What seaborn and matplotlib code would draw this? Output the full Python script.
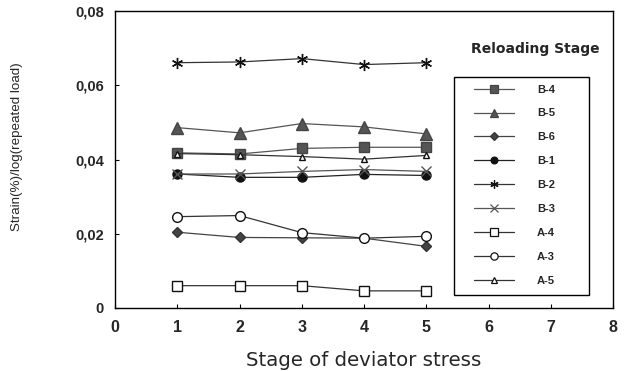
import matplotlib
matplotlib.use("Agg")
import matplotlib.pyplot as plt
import seaborn as sns
import pandas as pd
from matplotlib.lines import Line2D
from matplotlib.patches import Rectangle

# Stage of deviator stress
stages = [1, 2, 3, 4, 5]

b4 = [0.0418, 0.0415, 0.0430, 0.0433, 0.0433]
b5 = [0.0486, 0.0472, 0.0497, 0.0488, 0.0469]
b6 = [0.0204, 0.0190, 0.0189, 0.0188, 0.0166]
b1 = [0.0361, 0.0352, 0.0352, 0.0360, 0.0357]
b2 = [0.0661, 0.0663, 0.0672, 0.0656, 0.0661]
b3 = [0.0361, 0.0361, 0.0368, 0.0373, 0.0368]
a4 = [0.0060, 0.0060, 0.0060, 0.0046, 0.0046]
a3 = [0.0246, 0.0249, 0.0203, 0.0188, 0.0193]
a5 = [0.0416, 0.0413, 0.0408, 0.0401, 0.0411]

series_names = ["B-4", "B-5", "B-6", "B-1", "B-2", "B-3", "A-4", "A-3", "A-5"]
series_values = [b4, b5, b6, b1, b2, b3, a4, a3, a5]

x_ticks = [0, 1, 2, 3, 4, 5, 6, 7, 8]
y_ticks = [0, 0.02, 0.04, 0.06, 0.08]
y_tick_labels = ["0", "0,02", "0,04", "0,06", "0,08"]

styles = {
    "B-4": dict(marker="s", ms=7, mfc="#555555", mec="#444444", color="#555555"),
    "B-5": dict(marker="^", ms=8, mfc="#555555", mec="#444444", color="#555555"),
    "B-6": dict(marker="D", ms=5.5, mfc="#444444", mec="#333333", color="#444444"),
    "B-1": dict(marker="o", ms=6.5, mfc="#111111", mec="#111111", color="#222222"),
    "B-2": dict(marker=(6, 2, 0), ms=8, mfc="#111111", mec="#111111", color="#333333"),
    "B-3": dict(marker="x", ms=7, mfc="#666666", mec="#555555", color="#555555"),
    "A-4": dict(marker="s", ms=7, mfc="white", mec="#111111", color="#333333"),
    "A-3": dict(marker="o", ms=7, mfc="white", mec="#111111", color="#333333"),
    "A-5": dict(marker="^", ms=5, mfc="white", mec="#111111", color="#333333"),
}

sns.set_style("white")
plt.rcParams["font.family"] = ["Liberation Sans", "DejaVu Sans"]

W, H = 632, 371
fig = plt.figure(figsize=(W / 100, H / 100), dpi=100)
ax = fig.add_axes([0.182, 0.170, 0.788, 0.800])

handles = []
for name, vals in zip(series_names, series_values):
    st = styles[name]
    df = pd.DataFrame({"stage": stages, "value": vals})
    sns.lineplot(data=df, x="stage", y="value", ax=ax, color=st["color"],
                 linewidth=0.9, marker=st["marker"], markersize=st["ms"],
                 markerfacecolor=st["mfc"], markeredgecolor=st["mec"],
                 markeredgewidth=1.0, legend=False)
    handles.append(Line2D([], [], color=st["color"], linewidth=0.9,
                          marker=st["marker"], markersize=st["ms"] * 0.75,
                          markerfacecolor=st["mfc"], markeredgecolor=st["mec"],
                          markeredgewidth=0.9, label=name))

ax.set_xlim(0, 8)
ax.set_ylim(0, 0.08)
ax.set_xticks(x_ticks)
ax.set_xticklabels([str(t) for t in x_ticks], fontsize=11.5, fontweight="bold")
ax.set_yticks(y_ticks)
ax.set_yticklabels(y_tick_labels, fontsize=10.5, fontweight="bold")
ax.tick_params(direction="in", length=3, width=0.8, color="black",
               bottom=True, left=True)
ax.tick_params(axis="x", pad=9)
ax.tick_params(axis="y", pad=8)
for sp in ax.spines.values():
    sp.set_color("black")
    sp.set_linewidth(1.0)

ax.set_xlabel("Stage of deviator stress", fontsize=14.2, family="DejaVu Sans")
ax.xaxis.set_label_coords(0.5, -0.145)
ax.set_ylabel("Strain(%)/log(repeated load)", fontsize=9.6)
ax.yaxis.set_label_coords(-0.185, 0.545)

fig.text(535 / W, 1 - 49 / H, "Reloading Stage", ha="center", va="center",
         fontsize=10, family="DejaVu Sans", fontweight="semibold")

# legend entries without frame, boxed by a separate rectangle
leg = ax.legend(handles=handles, loc="upper left",
                bbox_to_anchor=(468 / W, 1 - 79 / H), bbox_transform=fig.transFigure,
                frameon=False, prop={"size": 8, "weight": "bold"},
                handlelength=3.6, handletextpad=2.1, labelspacing=1.25,
                borderpad=0.5, borderaxespad=0)
fig.patches.append(Rectangle((454 / W, 1 - 295 / H), 135 / W, 218 / H,
                             transform=fig.transFigure, fill=False,
                             edgecolor="black", linewidth=1.0, zorder=5))

fig.savefig("out.png", dpi=100)
